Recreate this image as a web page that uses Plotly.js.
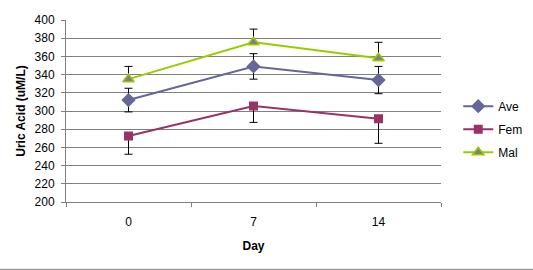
<!DOCTYPE html>
<html>
<head>
<meta charset="utf-8">
<script src="https://cdn.plot.ly/plotly-3.0.1.min.js"></script>
<style>html,body{margin:0;padding:0;background:#fff;}#chart{width:533px;height:270px;}</style>
</head>
<body>
<div id="chart"></div>
<script>
var days = ['0', '7', '14'];
var ave = [312, 349, 334];
var fem = [272.5, 305.5, 291.5];
var mal = [335, 375.5, 358];
var aveErr = [13, 14, 15];
var femErrMinus = [20, 18, 27];
var malErrPlus = [14, 14.5, 17.5];
var zeros = [0, 0, 0];
var yTicks = [200, 220, 240, 260, 280, 300, 320, 340, 360, 380, 400];

var errStyle = {color: '#000000', thickness: 1, width: 4};

var traces = [
  {
    x: days, y: ave, name: 'Ave', type: 'scatter', mode: 'lines+markers', legendgroup: 'a',
    line: {color: '#666699', width: 2},
    marker: {symbol: 'diamond', size: 11, color: '#666699'},
    error_y: Object.assign({type: 'data', array: aveErr, symmetric: true, visible: true}, errStyle)
  },
  {
    x: days, y: fem, name: 'Fem', type: 'scatter', mode: 'lines+markers', legendgroup: 'b',
    line: {color: '#993366', width: 2},
    marker: {symbol: 'square', size: 9, color: '#993366'},
    error_y: Object.assign({type: 'data', array: zeros, arrayminus: femErrMinus, symmetric: false, visible: true}, errStyle)
  },
  {
    x: days, y: mal, name: 'Mal', type: 'scatter', mode: 'lines+markers', legendgroup: 'c',
    line: {color: '#99CC00', width: 2},
    marker: {symbol: 'triangle-up', size: 10, color: '#808080', line: {color: '#99CC00', width: 1.5}},
    error_y: Object.assign({type: 'data', array: malErrPlus, arrayminus: zeros, symmetric: false, visible: true}, errStyle)
  }
];

var layout = {
  width: 533, height: 270,
  margin: {l: 66, r: 92, t: 20, b: 68, autoexpand: false},
  paper_bgcolor: '#ffffff', plot_bgcolor: '#ffffff',
  font: {family: 'Liberation Sans, Arial, sans-serif', size: 12, color: '#000000'},
  showlegend: true,
  legend: {
    x: 1.046, y: 0.40, xanchor: 'left', yanchor: 'middle',
    font: {size: 12}, itemwidth: 30, tracegroupgap: 4,
    bgcolor: 'rgba(0,0,0,0)'
  },
  xaxis: {
    type: 'category', categoryorder: 'array', categoryarray: days,
    range: [-0.5, 2.5], autorange: false,
    title: {text: '<b>Day</b>', font: {size: 12}, standoff: 13},
    showgrid: false, showline: true, linecolor: '#808080', linewidth: 1,
    ticks: 'outside', tickson: 'boundaries', ticklen: 4, tickcolor: '#808080',
    ticklabelstandoff: 9, zeroline: false
  },
  yaxis: {
    range: [200, 400], tickvals: yTicks, ticktext: yTicks.map(String),
    title: {text: '<b>Uric Acid (uM/L)</b>', font: {size: 12}, standoff: 6},
    showgrid: true, gridcolor: '#808080', gridwidth: 1,
    showline: true, linecolor: '#808080', linewidth: 1,
    ticks: 'outside', ticklen: 4, tickcolor: '#808080',
    ticklabelstandoff: 4, zeroline: false
  },
  shapes: [
    {type: 'line', xref: 'paper', yref: 'paper', x0: -0.2, x1: 1.3, y0: -0.37, y1: -0.37,
     line: {color: '#808080', width: 1}}
  ]
};

Plotly.newPlot('chart', traces, layout, {displayModeBar: false, staticPlot: true});
</script>
</body>
</html>
